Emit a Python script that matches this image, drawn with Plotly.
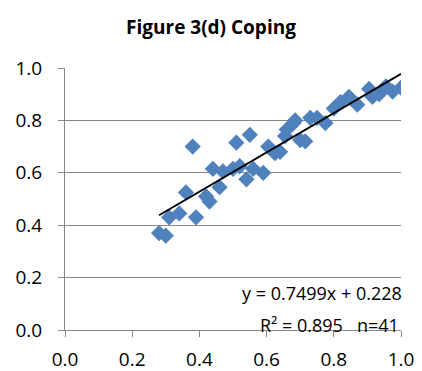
import plotly.graph_objects as go

x_vals = [0.28, 0.30, 0.31, 0.34, 0.36, 0.38, 0.39, 0.42, 0.43, 0.44,
          0.46, 0.47, 0.50, 0.51, 0.52, 0.54, 0.55, 0.56, 0.59, 0.605,
          0.625, 0.64, 0.655, 0.66, 0.68, 0.685, 0.70, 0.715, 0.73, 0.75,
          0.775, 0.80, 0.82, 0.845, 0.87, 0.905, 0.915, 0.935, 0.955, 0.975, 1.00]
y_vals = [0.37, 0.36, 0.43, 0.445, 0.525, 0.70, 0.43, 0.51, 0.49, 0.615,
          0.545, 0.605, 0.615, 0.715, 0.625, 0.575, 0.745, 0.615, 0.60, 0.70,
          0.675, 0.68, 0.74, 0.765, 0.79, 0.80, 0.725, 0.72, 0.81, 0.81,
          0.79, 0.845, 0.87, 0.89, 0.86, 0.92, 0.89, 0.90, 0.93, 0.91, 0.925]

slope = 0.7499
intercept = 0.228
r2 = 0.895
n = 41

tick_vals = [0.0, 0.2, 0.4, 0.6, 0.8, 1.0]
tick_text = ["0.0", "0.2", "0.4", "0.6", "0.8", "1.0"]

FONT = "Open Sans"

fig = go.Figure()
fig.add_trace(go.Scatter(
    x=x_vals, y=y_vals, mode="markers",
    marker=dict(symbol="diamond", size=12.5, color="#4F81BD", line=dict(width=0)),
    showlegend=False, hoverinfo="x+y"))

x_line = [min(x_vals), max(x_vals)]
y_line = [slope * v + intercept for v in x_line]
fig.add_trace(go.Scatter(
    x=x_line, y=y_line, mode="lines",
    line=dict(color="black", width=2), showlegend=False))

fig.add_annotation(x=1.0, y=0.142, xref="x", yref="y", xanchor="right", yanchor="middle",
                   xshift=3, text=f"y = {slope}x + {intercept}", showarrow=False,
                   font=dict(family=FONT, size=18, color="black"))
fig.add_annotation(x=1.0, y=0.02, xref="x", yref="y", xanchor="right", yanchor="middle",
                   text=f"R² = {r2}   n={n}", showarrow=False,
                   font=dict(family=FONT, size=18, color="black"))

axis_common = dict(range=[0, 1], tickvals=tick_vals, ticktext=tick_text,
                   showline=True, linecolor="#868686", linewidth=1,
                   ticks="outside", ticklen=6, tickcolor="#868686",
                   tickfont=dict(family=FONT, size=19, color="black"),
                   zeroline=False, fixedrange=True, automargin=False)

fig.update_layout(
    width=422, height=371,
    margin=dict(l=65, r=21, t=68, b=41),
    paper_bgcolor="white", plot_bgcolor="white",
    title=dict(text="<b>Figure 3(d) Coping</b>", x=0.5, xanchor="center",
               y=1 - 27 / 371, yanchor="middle",
               font=dict(family=FONT, size=19, color="black")),
    xaxis=dict(**axis_common, showgrid=False, ticklabelstandoff=6),
    yaxis=dict(**axis_common, showgrid=True, gridcolor="#868686", gridwidth=1,
               ticklabelstandoff=12),
)

fig.write_html("out.html")
